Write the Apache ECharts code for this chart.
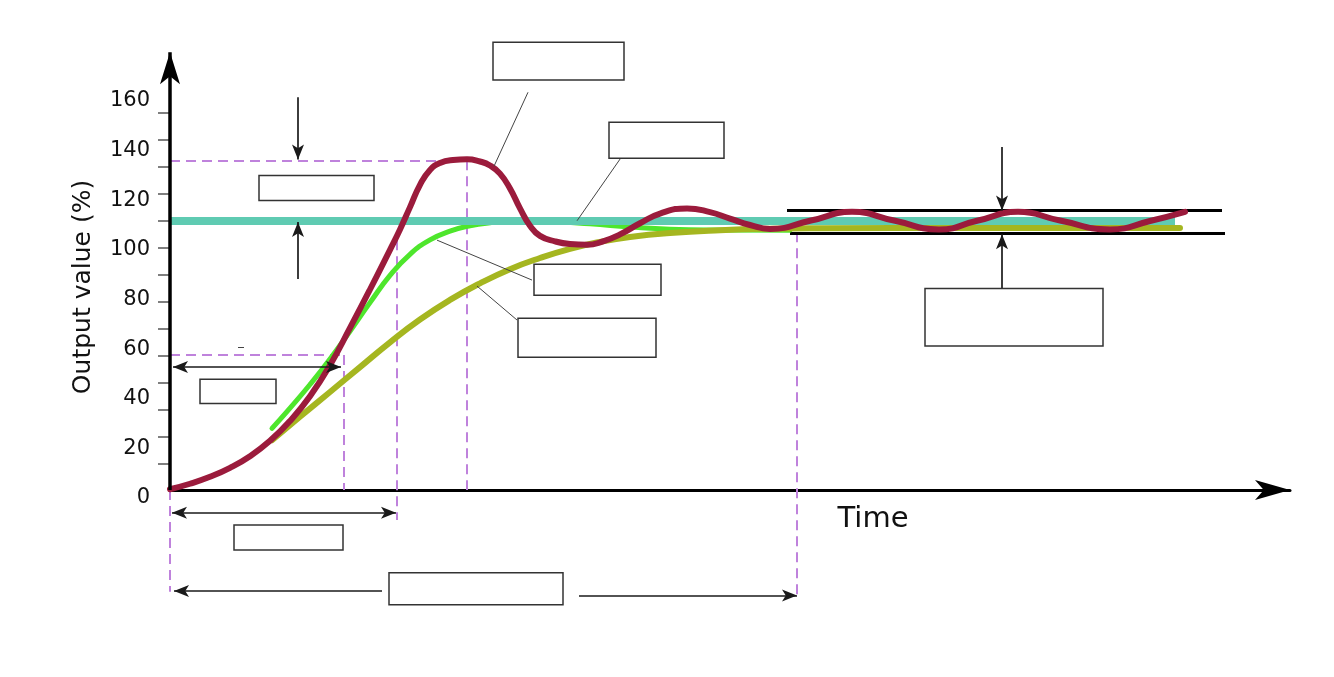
<!DOCTYPE html>
<html><head><meta charset="utf-8">
<script src="https://cdn.jsdelivr.net/npm/echarts@6/dist/echarts.min.js"></script>
<style>html,body{margin:0;padding:0;background:#fff}#c{width:1334px;height:677px}</style>
</head><body><div id="c"></div>
<script>
// ---- data (time units, output %) ----
const yLabelValues = [0, 20, 40, 60, 80, 100, 120, 140, 160];
const yTickValues = [10.5, 21.5, 32.2, 43.2, 54.0, 64.9, 75.7, 86.6, 97.5, 108.4, 119.2, 130.3, 141.3, 152.0];
const setpoint = [[0, 108.4], [100.5, 108.4]];
const redCurve = [
  [0, 0.3], [2, 2.5], [4, 5.3], [6, 8.9], [8, 13.6], [10, 19.8], [12, 27.8], [14, 37.8], [16, 50.3],
  [18, 65.3], [20, 80.8], [22, 96.8], [23, 105], [24, 114], [25, 123], [26, 129], [27, 131.8], [28.3, 133],
  [29.7, 133.3], [31, 132.4], [32, 130.8], [33, 127.5], [34, 121.5], [35, 113.5], [36, 106.5],
  [37, 102.4], [38.5, 100.2], [40, 99.1], [41.7, 98.8], [43.3, 100.2], [45, 103], [47, 107.5],
  [49, 111.4], [51.7, 113.5], [54, 112], [56, 109.4], [58, 106.8], [60, 105.2],
  [64.1, 108.6], [68.2, 112.1], [72.4, 108.6], [76.9, 105.0], [80.8, 108.6], [84.8, 112.1],
  [89, 108.6], [94, 105.0], [98, 108.4], [101.5, 112.1]
];
const greenCurve = [
  [10.2, 24.8], [12, 33], [14, 42.5], [16, 52.8], [18, 64], [20, 75.5], [22, 86.5], [24, 95],
  [26, 100.8], [28, 104.3], [30, 106.5], [32, 107.7], [34, 108.2], [38, 108.1], [42, 107.3],
  [46, 106], [50, 105.1], [55, 104.8], [62, 104.7]
];
const oliveCurve = [
  [10.2, 20.1], [13, 29.5], [16, 39.5], [19, 49.5], [22, 59.5], [25, 68.7], [28, 76.6], [31, 83.3],
  [34, 89], [37, 93.5], [40, 97.2], [43, 100], [46, 102], [50, 103.6], [55, 104.7], [60, 105.3],
  [65, 105.5], [80, 105.6], [101, 105.6]
];
// ---- annotation geometry (data coordinates) ----
const guideLines = [
  [[0, 132.9], [29.7, 132.9]], [[29.7, 132.9], [29.7, 0]],
  [[0, 54.4], [17.4, 54.4]], [[17.4, 54.4], [17.4, 0]],
  [[22.7, 100.7], [22.7, -12.1]], [[62.7, 103.9], [62.7, -42.7]], [[0, 0], [0, -41]]
];
const bandLines = [[[61.7, 112.8], [105.2, 112.8]], [[62, 103.6], [105.5, 103.6]]];
const singleArrows = [
  [[12.8, 158.3], [12.8, 133.2]], [[12.8, 85.0], [12.8, 108.0]],
  [[83.2, 138.2], [83.2, 112.6]], [[83.2, 79.4], [83.2, 103.1]],
  [[21.2, -40.7], [0.4, -40.7]], [[40.9, -42.5], [62.7, -42.5]]
];
const doubleArrows = [[[0.3, 49.6], [17.1, 49.6]], [[0.2, -9.2], [22.6, -9.2]]];
const leaderLines = [
  [[35.8, 160.3], [32.4, 130.5]], [[45.2, 134.5], [40.7, 108.5]],
  [[26.7, 100.7], [36.2, 84.6]], [[30.7, 82.2], [34.7, 68.5]], [[6.8, 57.4], [7.4, 57.4]]
];
const boxes = [
  [[32.3, 180.5], [45.4, 165.2]], [[43.9, 148.2], [55.4, 133.7]], [[36.4, 91], [49.1, 78.5]],
  [[34.8, 69.2], [48.6, 53.5]], [[8.9, 126.8], [20.4, 116.7]], [[3, 44.6], [10.6, 34.9]],
  [[6.4, -14.1], [17.3, -24.2]], [[21.9, -33.4], [39.3, -46.3]], [[75.5, 81.2], [93.3, 58]]
];
const yAxisTop = 176.4;
const xLabelPos = [70.3, -11.7];

// ---- build ----
const FONT = 'DejaVu Sans';
const arrowHead = { symbol: 'arrow', symbolSize: [9, 15] };
const thin = { color: '#1a1a1a', width: 1.7, type: 'solid' };
const axisStyle = { color: '#000', width: 3.5, type: 'solid' };
const annotLines = [];
annotLines.push([{ coord: [0, 0], symbol: 'none', lineStyle: axisStyle },
  { coord: [0, yAxisTop], symbol: 'arrow', symbolSize: [15, 32] }]);
singleArrows.forEach(a => annotLines.push([
  { coord: a[0], symbol: 'none', lineStyle: thin },
  Object.assign({ coord: a[1] }, arrowHead)]));
doubleArrows.forEach(a => annotLines.push([
  Object.assign({ coord: a[0], lineStyle: thin }, arrowHead),
  Object.assign({ coord: a[1] }, arrowHead)]));
leaderLines.forEach(a => annotLines.push([
  { coord: a[0], symbol: 'none', lineStyle: { color: '#444', width: 1, type: 'solid' } },
  { coord: a[1], symbol: 'none' }]));

const guideData = guideLines.map(g => [
  { coord: g[0], lineStyle: { color: '#bf82dc', width: 2, type: [10, 6] } }, { coord: g[1] }]);
bandLines.forEach(g => guideData.push([
  { coord: g[0], lineStyle: { color: '#000', width: 3, type: 'solid' } }, { coord: g[1] }]));

const chart = echarts.init(document.getElementById('c'));
chart.setOption({
  animation: false,
  backgroundColor: '#fff',
  grid: { left: 170, right: 44, top: 31, bottom: 63 },
  xAxis: {
    type: 'value', min: 0, max: 112,
    axisLine: { show: true, onZero: true, symbol: ['none', 'arrow'], symbolSize: [15, 35],
      lineStyle: { color: '#000', width: 3 } },
    axisTick: { show: false }, axisLabel: { show: false }, splitLine: { show: false }
  },
  yAxis: {
    type: 'value', min: -50, max: 185,
    name: 'Output value (%)', nameLocation: 'middle', nameGap: 74,
    nameTextStyle: { fontFamily: FONT, fontSize: 25, color: '#111', padding: [0, 0, 0, 71] },
    axisLine: { show: false },
    axisTick: { show: true, customValues: yTickValues, length: 12, lineStyle: { color: '#555', width: 1.5 } },
    axisLabel: { show: true, customValues: yLabelValues, margin: 20, fontFamily: FONT, fontSize: 21,
      color: '#111', verticalAlign: 'top', lineHeight: 16 },
    splitLine: { show: false }
  },
  series: [
    { name: 'guides', type: 'line', data: [], silent: true,
      markLine: { silent: true, z: 1, symbol: ['none', 'none'], label: { show: false },
        emphasis: { disabled: true }, lineStyle: { type: 'solid' }, data: guideData } },
    { name: 'fast', type: 'line', data: greenCurve, smooth: true, showSymbol: false, clip: false, z: 2,
      lineStyle: { color: '#4ee62c', width: 5, cap: 'round' } },
    { name: 'slow', type: 'line', data: oliveCurve, smooth: true, showSymbol: false, clip: false, z: 3,
      lineStyle: { color: '#a5b620', width: 6, cap: 'round' } },
    { name: 'setpoint', type: 'line', data: setpoint, showSymbol: false, clip: false, z: 4,
      lineStyle: { color: '#5fcbb2', width: 8 } },
    { name: 'response', type: 'line', data: redCurve, smooth: true, showSymbol: false, clip: false, z: 5,
      lineStyle: { color: '#9b1b3c', width: 6, cap: 'round' } },
    { name: 'annot', type: 'line', data: [], silent: true,
      markLine: { silent: true, z: 6, symbol: ['none', 'none'], label: { show: false },
        emphasis: { disabled: true }, lineStyle: { type: 'solid', color: '#222' }, data: annotLines },
      markArea: { silent: true, z: 7, label: { show: false }, emphasis: { disabled: true },
        itemStyle: { color: '#fff', borderColor: '#333', borderWidth: 1.5 },
        data: boxes.map(b => [{ coord: b[0] }, { coord: b[1] }]) },
      markPoint: { silent: true, z: 7, symbol: 'circle', symbolSize: 1,
        itemStyle: { color: 'rgba(0,0,0,0)' },
        label: { show: true, position: 'inside', fontFamily: FONT, fontSize: 29, color: '#111' },
        data: [{ coord: xLabelPos, value: 'Time', label: { formatter: 'Time' } }] } }
  ]
});
</script></body></html>
